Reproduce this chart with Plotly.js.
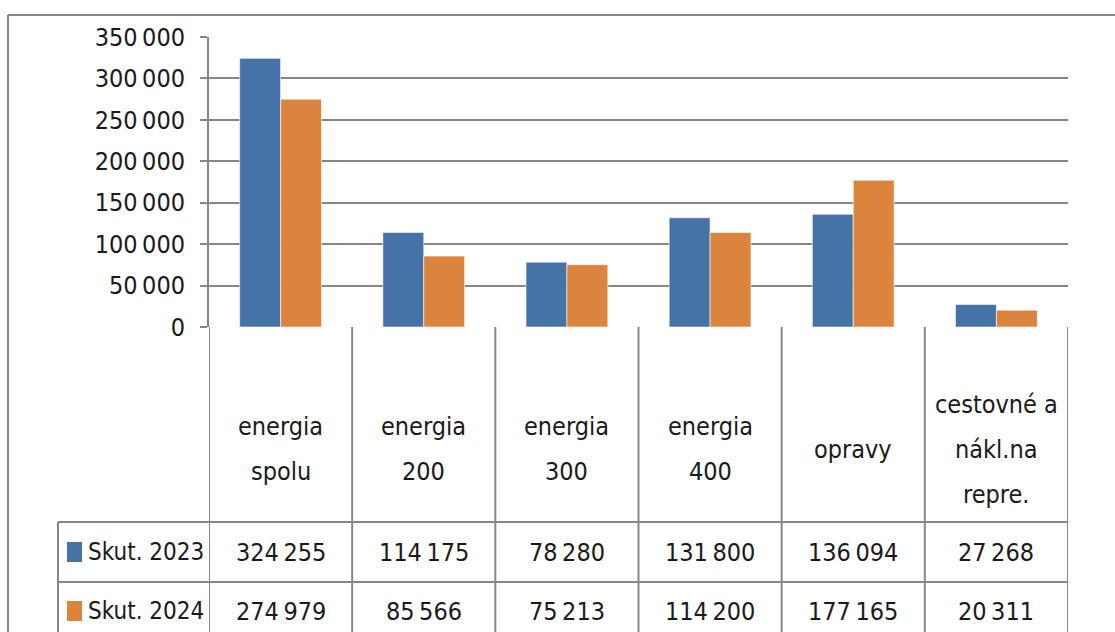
<!DOCTYPE html>
<html>
<head>
<meta charset="utf-8">
<script src="https://cdn.plot.ly/plotly-3.0.1.min.js"></script>
<style>html,body{margin:0;padding:0;background:#fff;}#chart{width:1115px;height:632px;}</style>
</head>
<body>
<div id="chart"></div>
<script>
// ---- data ----
const categoryLines = [
  ["energia", "spolu"],
  ["energia", "200"],
  ["energia", "300"],
  ["energia", "400"],
  ["opravy"],
  ["cestovné a", "nákl.na", "repre."]
];
const categories = ["energia spolu", "energia 200", "energia 300", "energia 400", "opravy", "cestovné a nákl.na repre."];
const seriesNames = ["Skut. 2023", "Skut. 2024"];
const skut2023 = [324255, 114175, 78280, 131800, 136094, 27268];
const skut2024 = [274979, 85566, 75213, 114200, 177165, 20311];
const yTicks = [0, 50000, 100000, 150000, 200000, 250000, 300000, 350000];

// ---- style ----
const FONT = "DejaVu Sans Condensed, Liberation Sans Narrow, sans-serif";
const FS = 25;
const GRID = "#878787";
const TXT = "#1a1a1a";
const colors = ["#4572a7", "#db843d"];
const THIN = "\u2009";
const W = 1115, H = 632;
const L = 209, R = 1068, T = 37, B = 327;
const px = x => (x - L) / (R - L);
const py = y => (B - y) / (B - T);

function fmt(v) {
  return String(v).replace(/\B(?=(\d{3})+(?!\d))/g, THIN);
}

const traces = [skut2023, skut2024].map((vals, i) => ({
  type: "bar",
  x: categories,
  y: vals,
  name: seriesNames[i],
  marker: { color: colors[i], line: { color: "rgba(255,255,255,0.6)", width: 1 } },
  hoverinfo: "x+y+name"
}));

const shapes = [];
const annotations = [];
const lineStyle = { color: GRID, width: 2 };

// outer frame
shapes.push({ type: "line", xref: "paper", yref: "paper", x0: px(8), x1: px(1118), y0: py(15), y1: py(15), line: lineStyle });
shapes.push({ type: "line", xref: "paper", yref: "paper", x0: px(8), x1: px(8), y0: py(15), y1: py(640), line: lineStyle });

// table vertical lines at category boundaries
for (let k = 0; k <= categories.length; k++) {
  shapes.push({ type: "line", xref: "x", yref: "paper", x0: k - 0.5, x1: k - 0.5, y0: 0, y1: py(640), line: lineStyle });
}
// table left border and horizontal row lines
shapes.push({ type: "line", xref: "paper", yref: "paper", x0: px(58), x1: px(58), y0: py(522), y1: py(640), line: lineStyle });
[522, 582].forEach(yy => {
  shapes.push({ type: "line", xref: "paper", yref: "paper", x0: px(58), x1: 1, y0: py(yy), y1: py(yy), line: lineStyle });
});

// category labels in table header
const lineGap = 45;
categoryLines.forEach((lines, k) => {
  const n = lines.length;
  lines.forEach((t, j) => {
    const yc = 449 + (j - (n - 1) / 2) * lineGap;
    annotations.push({ xref: "x", yref: "paper", x: k, y: py(yc), text: t, showarrow: false,
      xanchor: "center", yanchor: "middle", font: { family: FONT, size: FS, color: TXT } });
  });
});

// data rows
const rowY = [552, 611];
[skut2023, skut2024].forEach((vals, i) => {
  vals.forEach((v, k) => {
    annotations.push({ xref: "x", yref: "paper", x: k, y: py(rowY[i]), text: fmt(v), showarrow: false,
      xanchor: "center", yanchor: "middle", font: { family: FONT, size: FS, color: TXT } });
  });
  // legend key
  shapes.push({ type: "rect", xref: "paper", yref: "paper", x0: px(67), x1: px(82), y0: py(rowY[i] - 10), y1: py(rowY[i] + 10),
    fillcolor: colors[i], line: { width: 0 } });
  annotations.push({ xref: "paper", yref: "paper", x: px(86), y: py(rowY[i]), text: seriesNames[i], showarrow: false,
    xanchor: "left", yanchor: "middle", font: { family: FONT, size: 24, color: TXT } });
});

const layout = {
  width: W, height: H,
  margin: { l: L, r: W - R, t: T, b: H - B, pad: 0 },
  paper_bgcolor: "#fff", plot_bgcolor: "#fff",
  separators: "," + THIN,
  showlegend: false,
  barmode: "group",
  bargap: 0.4286,
  bargroupgap: 0,
  font: { family: FONT, size: FS, color: TXT },
  xaxis: {
    type: "category", range: [-0.5, 5.5], showticklabels: false, ticks: "",
    showgrid: false, zeroline: false, showline: false, fixedrange: true
  },
  yaxis: {
    range: [0, 350000], tickvals: yTicks, tickformat: ",d",
    showgrid: true, gridcolor: GRID, gridwidth: 2,
    zeroline: false, showline: true, linecolor: GRID, linewidth: 2,
    ticks: "outside", ticklen: 7, tickwidth: 2, tickcolor: GRID,
    ticklabelstandoff: 10,
    tickfont: { family: FONT, size: FS, color: TXT }, fixedrange: true
  },
  shapes: shapes,
  annotations: annotations
};

Plotly.newPlot("chart", traces, layout, { displayModeBar: false, staticPlot: true });
</script>
</body>
</html>
